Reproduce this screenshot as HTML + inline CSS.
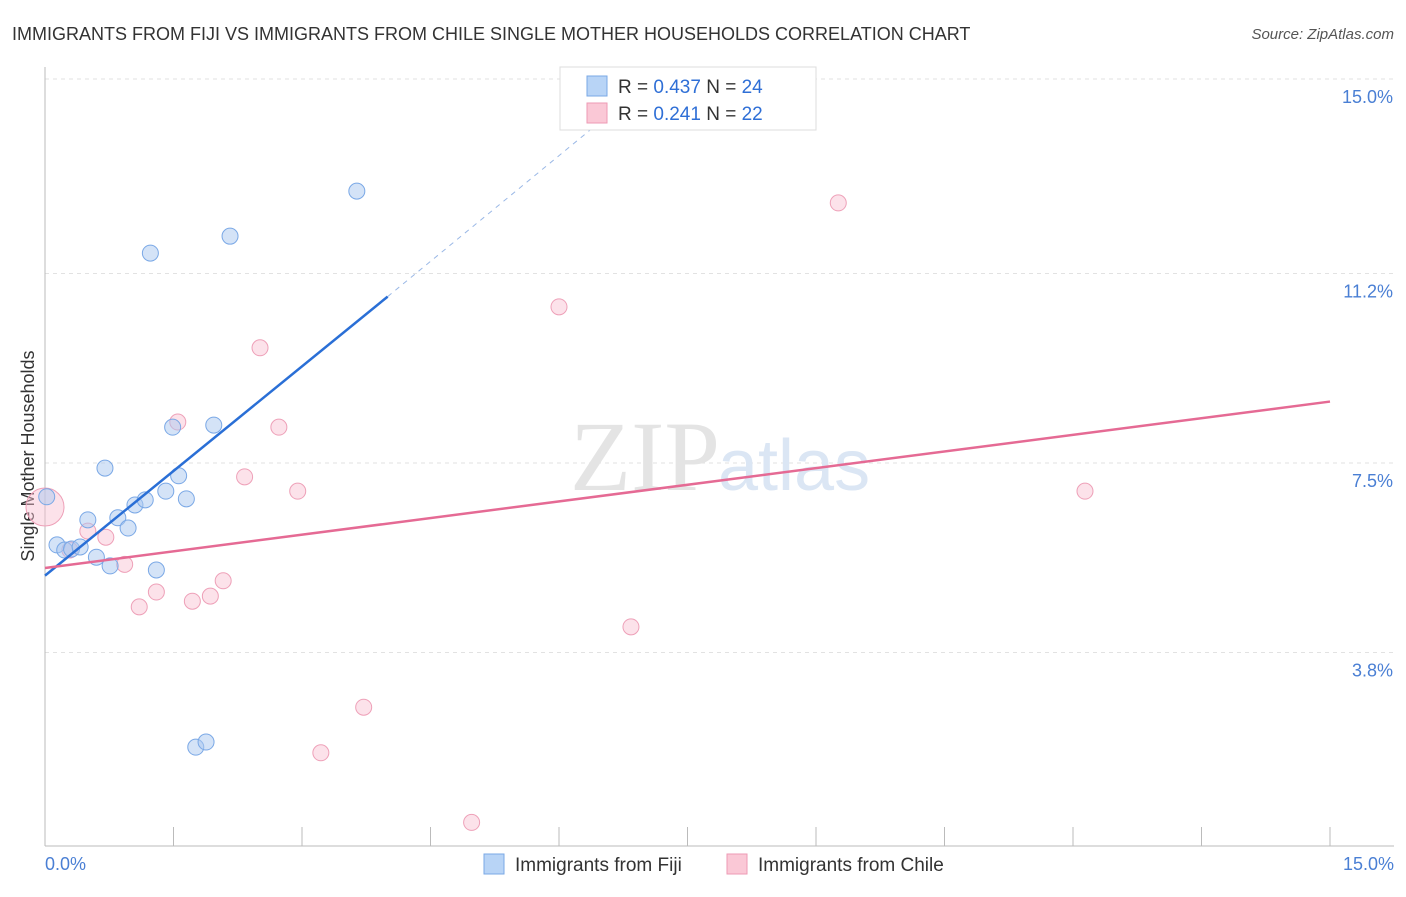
<!DOCTYPE html>
<html><head><meta charset="utf-8"><style>
body{margin:0;background:#fff;font-family:"Liberation Sans",sans-serif;}
</style></head><body>
<svg width="1406" height="892" xmlns="http://www.w3.org/2000/svg" font-family="Liberation Sans, sans-serif">
<text x="12" y="40" font-size="18" fill="#333">IMMIGRANTS FROM FIJI VS IMMIGRANTS FROM CHILE SINGLE MOTHER HOUSEHOLDS CORRELATION CHART</text>
<text x="1394" y="39" font-size="15" fill="#555" font-style="italic" text-anchor="end">Source: ZipAtlas.com</text>
<g id="grid"></g>
<g id="axes"></g>
<text x="720" y="490" font-size="100" fill="#e4e4e4" text-anchor="end" font-family="Liberation Serif, serif">ZIP</text>
<text x="718" y="490" font-size="72" fill="#dbe6f4">atlas</text>
<text transform="translate(34,456) rotate(-90)" font-size="18" fill="#333" text-anchor="middle">Single Mother Households</text>
<g id="pts"></g>
<g id="lines"></g>
<g>
<rect x="560" y="67" width="256" height="63" fill="#fff" stroke="#ddd"/>
<rect x="587" y="76" width="20" height="20" fill="#b8d4f6" stroke="#7aa8e6"/>
<text x="618" y="93" font-size="19" fill="#333">R = <tspan fill="#2f6fd6">0.437</tspan>   N = <tspan fill="#2f6fd6">24</tspan></text>
<rect x="587" y="103" width="20" height="20" fill="#fac8d6" stroke="#ee9ab4"/>
<text x="618" y="120" font-size="19" fill="#333">R =  <tspan fill="#2f6fd6">0.241</tspan>   N = <tspan fill="#2f6fd6">22</tspan></text>
</g>
<g>
<rect x="484" y="854" width="20" height="20" fill="#b8d4f6" stroke="#7aa8e6"/>
<text x="515" y="871" font-size="19" fill="#333">Immigrants from Fiji</text>
<rect x="727" y="854" width="20" height="20" fill="#fac8d6" stroke="#ee9ab4"/>
<text x="758" y="871" font-size="19" fill="#333">Immigrants from Chile</text>
</g>
</svg>
<script>
const yTicks=[3.8,7.5,11.2,15.0];
const yTickLabels=["3.8%","7.5%","11.2%","15.0%"];
const fijiX=[0.02,0.14,0.23,0.31,0.41,0.5,0.6,0.7,0.76,0.85,0.97,1.05,1.17,1.23,1.3,1.41,1.49,1.56,1.65,1.76,1.88,1.97,2.16,3.64];
const fijiY=[6.84,5.9,5.8,5.82,5.86,6.39,5.66,7.4,5.49,6.43,6.23,6.68,6.78,11.6,5.41,6.95,8.2,7.25,6.8,1.95,2.05,8.24,11.93,12.81];
const chileX=[0.0,0.5,0.71,0.93,1.1,1.3,1.55,1.72,1.93,2.08,2.33,2.51,2.73,2.95,3.22,3.72,4.98,6.0,6.84,9.26,12.14,0.29];
const chileY=[6.64,6.17,6.05,5.52,4.69,4.98,8.3,4.8,4.9,5.2,7.23,9.75,8.2,6.95,1.84,2.73,0.48,10.55,4.3,12.58,6.95,5.8];
const fijiLine=[[0,5.3],[4.0,10.75]];
const fijiDash=[[4.0,10.75],[6.47,14.15]];
const chileLine=[[0,5.45],[15,8.7]];
const NS="http://www.w3.org/2000/svg";
const X=v=>45+v*(1330-45)/15, Y=v=>847-v*51.2;
function mk(t,a,p){const e=document.createElementNS(NS,t);for(const k in a)e.setAttribute(k,a[k]);p.appendChild(e);return e;}
const g=document.getElementById('grid'),ax=document.getElementById('axes');
yTicks.forEach((t,i)=>{const l=mk('line',{x1:45,x2:1394,y1:Y(t),y2:Y(t),stroke:'#e2e2e2','stroke-dasharray':'4,4'},g);

const tx=mk('text',{x:1393,y:Y(t)+24,'font-size':18,fill:'#4a7fd4','text-anchor':'end'},ax);tx.textContent=yTickLabels[i];
});
const xa=mk('line',{x1:45,x2:1394,y1:846,y2:846,stroke:'#bbb'},ax);
const ya=mk('line',{x1:45,x2:45,y1:67,y2:846,stroke:'#bbb'},ax);
for(let i=0;i<=10;i++){const t=mk('line',{x1:X(i*1.5),x2:X(i*1.5),y1:827,y2:846,stroke:'#bbb'},ax);}
const l0=mk('text',{x:45,y:870,'font-size':18,fill:'#4a7fd4'},ax);l0.textContent='0.0%';
const l1=mk('text',{x:1394,y:870,'font-size':18,fill:'#4a7fd4','text-anchor':'end'},ax);l1.textContent='15.0%';
const p=document.getElementById('pts');
chileX.forEach((x,i)=>{const c=mk('circle',{cx:X(x),cy:Y(chileY[i]),r:i==0?19:8,fill:'rgba(248,190,208,0.45)',stroke:'#eea0b8','stroke-width':1},p);
});
fijiX.forEach((x,i)=>{const c=mk('circle',{cx:X(x),cy:Y(fijiY[i]),r:8,fill:'rgba(170,200,240,0.5)',stroke:'#7aa8e6','stroke-width':1},p);
});
const L=document.getElementById('lines');
function ln(a,st,n){const e=mk('line',Object.assign({x1:X(a[0][0]),y1:Y(a[0][1]),x2:X(a[1][0]),y2:Y(a[1][1])},st),L);}
ln(fijiLine,{stroke:'#2a6fd6','stroke-width':2.5},'fiji-trendline');
ln(fijiDash,{stroke:'#9ab8e6','stroke-width':1,'stroke-dasharray':'5,5'},'fiji-trendline-extension');
ln(chileLine,{stroke:'#e56a94','stroke-width':2.5},'chile-trendline');
</script>
</body></html>
